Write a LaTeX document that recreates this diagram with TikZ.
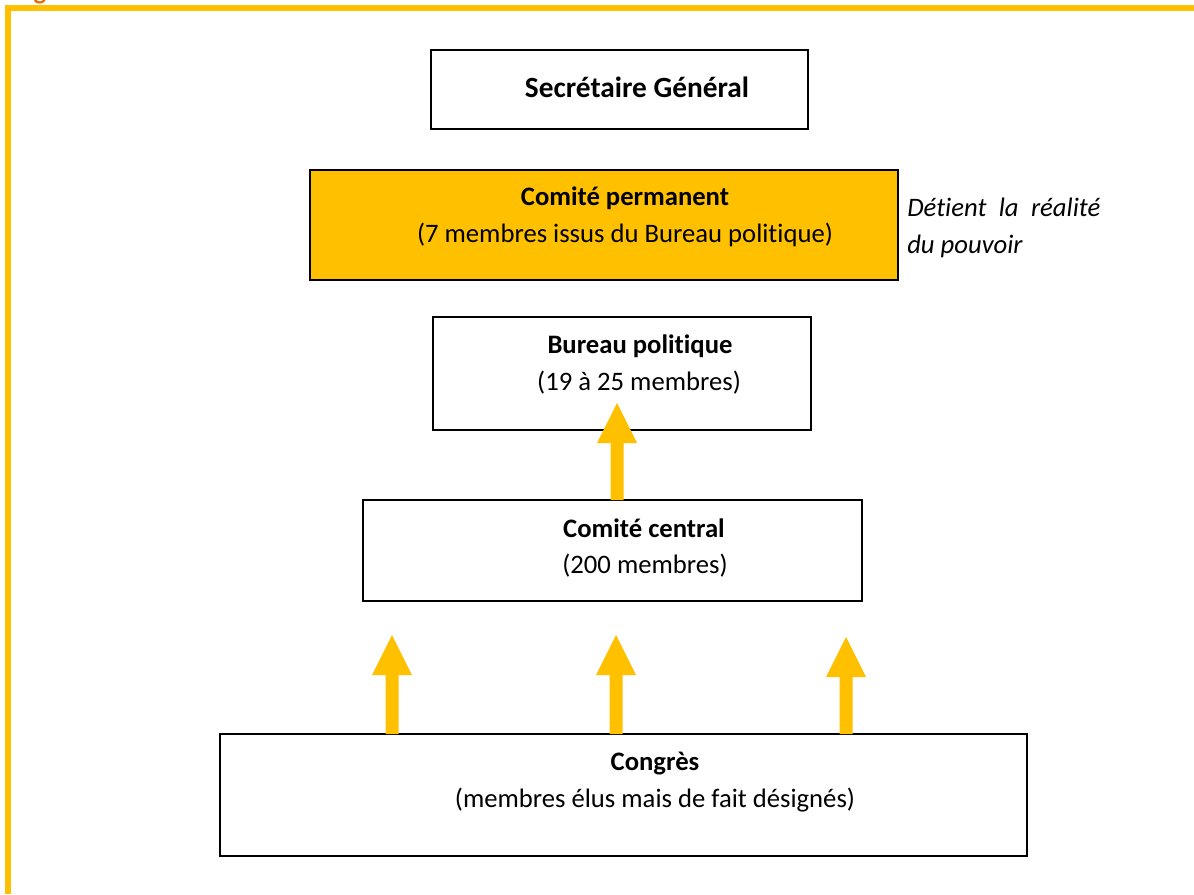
\documentclass[tikz,border=0pt]{standalone}
\usepackage{fontspec}
\setmainfont{Carlito}[Ligatures={NoCommon}]
\usetikzlibrary{calc}
\definecolor{gold}{HTML}{FFC000}
\definecolor{figorange}{HTML}{E36C0A}
\newcommand\blockarr[2]{%
  \fill[arrowfill] ($(#1)+(-6.5,0)$) -- ($(#2)+(-6.5,40)$) -- ($(#2)+(-20,40)$) -- (#2)
    -- ($(#2)+(20,40)$) -- ($(#2)+(6.5,40)$) -- ($(#1)+(6.5,0)$) -- cycle;}
\begin{document}
\begin{tikzpicture}[x=0.75pt,y=-0.75pt,
  box/.style={draw=black, line width=1.5pt, rectangle, inner sep=0pt, outer sep=0pt},
  lbl/.style={anchor=base, inner sep=0pt, font=\fontsize{20}{24}\selectfont},
  lblb/.style={anchor=base, inner sep=0pt, font=\fontsize{20}{24}\selectfont\bfseries},
  note/.style={anchor=base west, inner sep=0pt, font=\fontsize{20}{24}\selectfont\itshape},
  frame/.style={draw=gold, line width=4.5pt},
  arrowfill/.style={fill=gold}]
\useasboundingbox (0,0) rectangle (1194,894);
\fill[white] (0,0) rectangle (1194,894);
% frame (only top and left visible)
\draw[frame] (8,894) -- (8,8) -- (1194,8);
\begin{scope}
  \clip (0,0) rectangle (1194,894);
  \node[anchor=base, inner sep=0pt, text=figorange, font=\fontsize{20}{24}\selectfont\bfseries] (fig) at (40,-1) {g};
\end{scope}
% boxes
\node[box, minimum width=282.75pt, minimum height=59.25pt] (SG) at (619.5,89.5) {};
\node[box, fill=gold, minimum width=441pt, minimum height=82.5pt] (CP) at (604,225) {};
\node[box, minimum width=283.5pt, minimum height=84.75pt] (BP) at (622,373.5) {};
\node[box, minimum width=374.25pt, minimum height=75.75pt] (CC) at (612.5,550.5) {};
\node[box, minimum width=605.25pt, minimum height=91.5pt] (CG) at (623.5,795) {};
% texts
\node[lblb, font=\fontsize{22}{26}\selectfont\bfseries] (t1) at (637,97) {Secrétaire Général};
\node[lblb] (t2) at (625,205) {Comité permanent};
\node[lbl] (t3) at (625,242) {(7 membres issus du Bureau politique)};
\node[lblb] (t4) at (640,353) {Bureau politique};
\node[lbl] (t5) at (639,390) {(19 à 25 membres)};
\node[lblb] (t6) at (644,537) {Comité central};
\node[lbl] (t7) at (645,573) {(200 membres)};
\node[lblb] (t8) at (655,770) {Congrès};
\node[lbl] (t9) at (655,807) {(membres élus mais de fait désignés)};
\node[note] (n1) at (907,216) {\makebox[144.75pt][s]{Détient la réalité}};
\node[note] (n2) at (907,253) {du pouvoir};
% arrows
\coordinate (a1b) at (617,0 |- CC.north);
\coordinate (a1t) at (617,403);
\coordinate (a2b) at (392,0 |- CG.north);
\coordinate (a2t) at (392,635);
\coordinate (a3b) at (616,0 |- CG.north);
\coordinate (a3t) at (616,635);
\coordinate (a4b) at (846,0 |- CG.north);
\coordinate (a4t) at (846,637);
\blockarr{a1b}{a1t}
\blockarr{a2b}{a2t}
\blockarr{a3b}{a3t}
\blockarr{a4b}{a4t}
\end{tikzpicture}
\end{document}
